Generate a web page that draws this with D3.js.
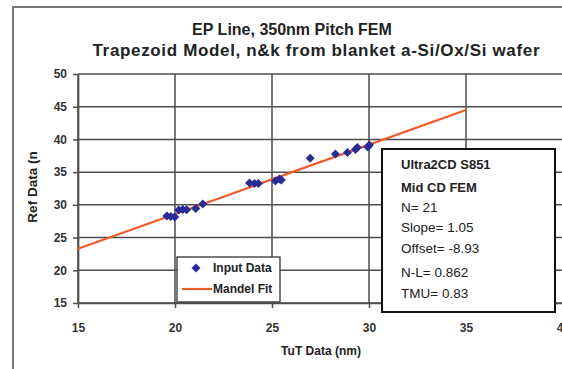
<!DOCTYPE html>
<html>
<head>
<meta charset="utf-8">
<script src="https://cdnjs.cloudflare.com/ajax/libs/d3/7.8.5/d3.min.js"></script>
<style>
  body { margin: 0; background: #fff; }
  svg { display: block; font-family: "Liberation Sans", Arial, sans-serif; }
</style>
</head>
<body>
<div id="chart"></div>
<script>
'use strict';

// values
var tutData = [19.58, 19.78, 19.99, 20.19, 20.40, 20.6, 21.07, 21.43, 23.84, 24.10, 24.30,
               25.17, 25.38, 25.48, 26.97, 28.27, 28.89, 29.30, 29.40, 29.94, 30.02];
var refData = [28.30, 28.22, 28.14, 29.21, 29.29, 29.25, 29.44, 30.13, 33.34, 33.26, 33.26,
               33.65, 33.95, 33.80, 37.12, 37.77, 38.00, 38.46, 38.77, 38.84, 39.15];
var fitX = [15, 35];
var fitY = [23.3, 44.5];
var xTicks = [15, 20, 25, 30, 35, 40];
var yTicks = [15, 20, 25, 30, 35, 40, 45, 50];
var titleLines = ['EP Line, 350nm Pitch FEM', 'Trapezoid Model, n&k from blanket a-Si/Ox/Si wafer'];
var statLines = ['Ultra2CD S851', 'Mid CD FEM', 'N= 21', 'Slope= 1.05', 'Offset= -8.93', 'N-L= 0.862', 'TMU= 0.83'];
var legendLabels = ['Input Data', 'Mandel Fit'];

var width = 562, height = 369,
    grid_color = '#4d4d4d',
    text_color = '#222',
    dot_color = '#2b2b95',
    fit_color = '#ef5a28';

var svg = d3.select('#chart').append('svg')
    .attr('width', width)
    .attr('height', height);

// outer chart frame
svg.append('rect')
    .attr('x', 13).attr('y', 7)
    .attr('width', 600).attr('height', 400)
    .attr('fill', '#fff')
    .attr('stroke', '#777')
    .attr('stroke-width', 2);

var x = d3.scaleLinear().domain([15, 40]).range([78, 563]),
    y = d3.scaleLinear().domain([15, 50]).range([303, 74]);

// titles
svg.append('text')
    .attr('x', 292).attr('y', 35)
    .attr('text-anchor', 'middle')
    .attr('font-size', 16).attr('font-weight', 'bold')
    .attr('fill', text_color)
    .text(titleLines[0]);

svg.append('text')
    .attr('x', 316).attr('y', 56)
    .attr('text-anchor', 'middle')
    .attr('font-size', 17).attr('font-weight', 'bold')
    .attr('textLength', 447).attr('lengthAdjust', 'spacing')
    .attr('fill', text_color)
    .text(titleLines[1]);

// gridlines
var grid = svg.append('g');
grid.selectAll('line.h').data(yTicks).enter().append('line')
    .attr('x1', x(15)).attr('x2', x(40))
    .attr('y1', function(d) { return y(d); })
    .attr('y2', function(d) { return y(d); })
    .attr('stroke', grid_color).attr('stroke-width', 1.5);
grid.selectAll('line.v').data(xTicks).enter().append('line')
    .attr('y1', y(15)).attr('y2', y(50))
    .attr('x1', function(d) { return x(d); })
    .attr('x2', function(d) { return x(d); })
    .attr('stroke', grid_color).attr('stroke-width', 1.5);

// axes
var yAxis = svg.append('g')
    .attr('transform', 'translate(' + x(15) + ',0)')
    .call(d3.axisLeft(y).tickValues(yTicks).tickSize(5).tickPadding(6).tickSizeOuter(0));
var xAxis = svg.append('g')
    .attr('transform', 'translate(0,' + y(15) + ')')
    .call(d3.axisBottom(x).tickValues(xTicks).tickSize(5).tickPadding(15).tickSizeOuter(0));

[xAxis, yAxis].forEach(function(ax) {
    ax.select('.domain').attr('stroke', grid_color).attr('stroke-width', 1.7);
    ax.selectAll('.tick line').attr('stroke', grid_color).attr('stroke-width', 1.5);
    ax.selectAll('.tick text')
        .attr('font-family', '"Liberation Sans", Arial, sans-serif')
        .attr('font-size', 12).attr('font-weight', 'bold')
        .attr('fill', '#333');
});

// axis titles
svg.append('text')
    .attr('x', 321).attr('y', 355)
    .attr('text-anchor', 'middle')
    .attr('font-size', 12).attr('font-weight', 'bold')
    .attr('fill', text_color)
    .text('TuT Data (nm)');

svg.append('text')
    .attr('transform', 'translate(37,187) rotate(-90)')
    .attr('text-anchor', 'middle')
    .attr('font-size', 13.5).attr('font-weight', 'bold')
    .attr('fill', text_color)
    .text('Ref Data (n');

// fit line
var line = d3.line()
    .x(function(d) { return x(d[0]); })
    .y(function(d) { return y(d[1]); });

svg.append('path')
    .attr('d', line(d3.zip(fitX, fitY)))
    .attr('stroke', fit_color).attr('stroke-width', 2.2)
    .attr('fill', 'none');

// data markers
var diamond = 'M0,-4.5L4.5,0L0,4.5L-4.5,0Z';
svg.append('g').selectAll('path')
    .data(d3.zip(tutData, refData))
    .enter().append('path')
    .attr('d', diamond)
    .attr('transform', function(d) { return 'translate(' + x(d[0]) + ',' + y(d[1]) + ')'; })
    .attr('fill', dot_color);

// legend
var legend = svg.append('g').attr('transform', 'translate(177,257)');
legend.append('rect')
    .attr('width', 103).attr('height', 45)
    .attr('fill', '#fff')
    .attr('stroke', '#333').attr('stroke-width', 1.3);
legend.append('path')
    .attr('d', diamond)
    .attr('transform', 'translate(19,11)')
    .attr('fill', dot_color);
legend.append('line')
    .attr('x1', 5).attr('x2', 35)
    .attr('y1', 32).attr('y2', 32)
    .attr('stroke', fit_color).attr('stroke-width', 2.2);
legend.selectAll('text').data(legendLabels).enter().append('text')
    .attr('x', 36)
    .attr('y', function(d, i) { return 15 + i * 21; })
    .attr('font-size', 12).attr('font-weight', 'bold')
    .attr('fill', text_color)
    .text(function(d) { return d; });

// statistics box
var stats = svg.append('g').attr('transform', 'translate(382,149)');
stats.append('rect')
    .attr('width', 173).attr('height', 163)
    .attr('fill', '#fff')
    .attr('stroke', '#111').attr('stroke-width', 2);
var statY = [15, 37.5, 57.5, 77.5, 99, 122.5, 144];
stats.selectAll('text').data(statLines).enter().append('text')
    .attr('x', 19)
    .attr('y', function(d, i) { return statY[i] + 5; })
    .attr('font-size', function(d, i) { return i < 2 ? 13 : 13.5; })
    .attr('font-weight', function(d, i) { return i < 2 ? 'bold' : 'normal'; })
    .attr('fill', text_color)
    .text(function(d) { return d; });
</script>
</body>
</html>
